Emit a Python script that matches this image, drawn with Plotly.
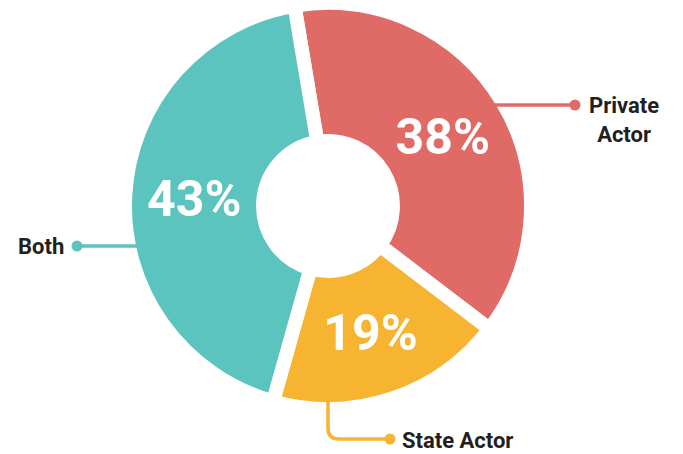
import plotly.graph_objects as go

# ---- data ----
categories = ["Private Actor", "State Actor", "Both"]
shares = [38, 19, 43]
colors = ["#DF6A66", "#F7B431", "#5CC4BE"]

W, H = 683, 454
def px(x):
    return x / W
def py(y):
    return 1 - y / H

# pie geometry (pixels)
cx, cy, R = 328, 206, 203

fig = go.Figure(go.Pie(
    labels=categories,
    values=shares,
    sort=False,
    direction="clockwise",
    rotation=-9.5,
    hole=0.32,
    marker=dict(colors=colors, line=dict(color="white", width=14)),
    texttemplate="%{value}%",
    textposition="inside",
    insidetextorientation="horizontal",
    textfont=dict(family="Roboto", size=50, color="white", weight="bold"),
    showlegend=False,
    hoverinfo="label+percent",
    domain=dict(x=[px(cx - R), px(cx + R)], y=[py(cy + R), py(cy - R)]),
))

shapes = []
annots = []
label_font = dict(family="Roboto", size=22, color="#231F20", weight="bold")

def dot(x, y, c, r=5.5):
    shapes.append(dict(type="circle", xref="paper", yref="paper",
                       x0=px(x - r), x1=px(x + r), y0=py(y + r), y1=py(y - r),
                       fillcolor=c, line=dict(width=0)))

def seg(x0, y0, x1, y1, c):
    shapes.append(dict(type="line", xref="paper", yref="paper",
                       x0=px(x0), y0=py(y0), x1=px(x1), y1=py(y1),
                       line=dict(color=c, width=3.5)))

# Private Actor
seg(495, 105, 573, 105, colors[0])
dot(575, 105, colors[0])
annots.append(dict(xref="paper", yref="paper", x=px(624), y=py(120),
                   text="Private<br>Actor", showarrow=False, font=label_font,
                   xanchor="center", yanchor="middle", align="center"))

# Both
seg(77, 246, 140, 246, colors[2])
dot(77, 246, colors[2])
annots.append(dict(xref="paper", yref="paper", x=px(66), y=py(246),
                   text="Both", showarrow=False, font=label_font,
                   xanchor="right", yanchor="middle"))

# State Actor (rounded elbow)
path = (f"M {px(328)},{py(398)} L {px(328)},{py(428)} "
        f"Q {px(328)},{py(439)} {px(339)},{py(439)} L {px(388)},{py(439)}")
shapes.append(dict(type="path", xref="paper", yref="paper", path=path,
                   line=dict(color=colors[1], width=3.5)))
dot(390, 439, colors[1])
annots.append(dict(xref="paper", yref="paper", x=px(400), y=py(440),
                   text="State Actor", showarrow=False, font=label_font,
                   xanchor="left", yanchor="middle"))

fig.update_layout(
    width=W, height=H,
    margin=dict(l=0, r=0, t=0, b=0),
    paper_bgcolor="white",
    plot_bgcolor="white",
    shapes=shapes,
    annotations=annots,
)

fig.write_html("out.html", config={"displayModeBar": False},
               post_script="document.body.style.margin='0';")
